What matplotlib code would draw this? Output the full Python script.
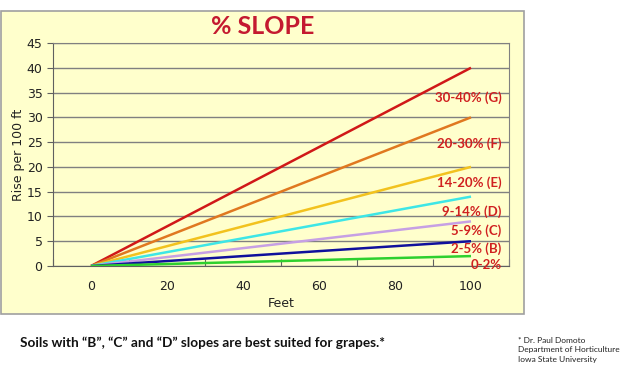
import matplotlib
matplotlib.use("Agg")
import matplotlib.pyplot as plt
from matplotlib.patches import Rectangle

# Data
feet = [0, 100]
series_names = ["30-40% (G)", "20-30% (F)", "14-20% (E)", "9-14% (D)", "5-9% (C)", "2-5% (B)", "0-2%"]
series_rise = [40, 30, 20, 14, 9, 5, 2]
series_colors = ["#d01818", "#e07820", "#f2c21e", "#3ee6e6", "#c6a0e4", "#10109c", "#2ed02e"]
label_y = [34, 24.6, 16.8, 10.9, 7.2, 3.6, 0.2]
x_tick_labels = [0, 20, 40, 60, 80, 100]
y_ticks = list(range(0, 50, 5))

W, H = 640, 382
fig = plt.figure(figsize=(6.4, 3.82), dpi=100)
fig.patch.set_facecolor("white")

# Panel
panel = Rectangle((1 / W, 1 - 314 / H), 523 / W, (314 - 11) / H, transform=fig.transFigure,
                  facecolor="#ffffcc", edgecolor="#a0a0a0", linewidth=1.2, zorder=-10)
fig.patches.append(panel)

ax = fig.add_axes([53 / W, 1 - 266 / H, (509 - 53) / W, (266 - 43) / H])
ax.set_zorder(5)
ax.set_facecolor("#ffffcc")
ax.set_xlim(-10, 110)
ax.set_ylim(0, 45)

for name, v, c in zip(series_names, series_rise, series_colors):
    ax.plot(feet, [0, v], color=c, linewidth=1.8, solid_capstyle="butt", zorder=3)

for name, ly in zip(series_names, label_y):
    ax.text(108, ly, name, ha="right", va="center", color="#d02020",
            fontsize=9.5, fontweight="bold", family="Lato", zorder=4)

ax.set_yticks(y_ticks)
ax.yaxis.grid(True, color="#808080", linewidth=1.0)
ax.set_axisbelow(True)
ax.set_xticks(range(-10, 111, 20))
ax.set_xticklabels([])
ax.set_xticks(x_tick_labels, minor=True)
ax.set_xticklabels([str(v) for v in x_tick_labels], minor=True)
ax.tick_params(axis="x", which="major", length=5, color="#606060", direction="in")
ax.tick_params(axis="x", which="minor", length=0, labelsize=9, pad=10, labelcolor="#222222")
ax.tick_params(axis="y", length=4, color="#606060", labelsize=9, labelcolor="#222222")
for s in ["top", "right"]:
    ax.spines[s].set_color("#808080")
for s in ["left", "bottom"]:
    ax.spines[s].set_color("#606060")
ax.set_xlabel("Feet", fontsize=9, color="#222222", labelpad=3)
ax.set_ylabel("Rise per 100 ft", fontsize=9, color="#222222", labelpad=1)

fig.text(263 / W, 1 - 26 / H, "% SLOPE", ha="center", va="center", color="#c41a30",
         fontsize=18, fontweight="bold", family="Lato")

fig.text(20 / W, 1 - 343 / H, "Soils with \u201cB\u201d, \u201cC\u201d and \u201cD\u201d slopes are best suited for grapes.*",
         ha="left", va="center", fontsize=9.8, fontweight="bold", family="Lato", color="#111111")
fig.text(518 / W, 1 - 337 / H, "* Dr. Paul Domoto\nDepartment of Horticulture\nIowa State University",
         ha="left", va="top", fontsize=6, family="Lato", color="#222222", linespacing=1.4)

fig.savefig("out.png", dpi=100)
